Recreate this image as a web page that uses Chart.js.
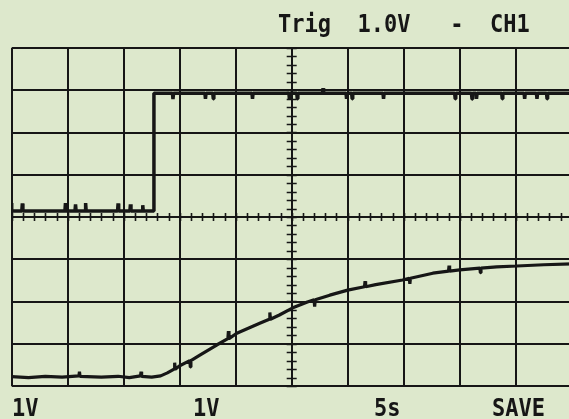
<!DOCTYPE html>
<html>
<head>
<meta charset="utf-8">
<script src="https://cdn.jsdelivr.net/npm/chart.js@4/dist/chart.umd.min.js"></script>
<style>
  html, body { margin: 0; padding: 0; overflow: hidden; background: #dde8cc; }
  canvas { display: block; }
</style>
</head>
<body>
<canvas id="scope" width="575" height="419"></canvas>
<script>
// Screen settings: 10 horizontal divisions at 5 s/div, 8 vertical divisions at 1 V/div
const timeDivs = [0, 5, 10, 15, 20, 25, 30, 35, 40, 45, 50];
const voltDivs = [-4, -3, -2, -1, 0, 1, 2, 3, 4];

// Header and footer readouts
const headerText = "Trig  1.0V   -  CH1";
const footerLabels = ["1V", "1V", "5s", "SAVE"];

// CH1: step input (seconds, volts), with its small glitches
const ch1Time = [
  0, 0, 0.05, 0.9, 0.95, 1.0, 4.75, 4.8, 4.85, 5.65, 5.7, 5.75, 6.55, 6.6, 6.65,
  9.45, 9.5, 9.55, 10.55, 10.6, 10.65, 11.65, 11.7, 11.75, 12.7,
  12.7, 14.35, 14.4, 14.45, 17.25, 17.3, 17.35, 17.95, 18.0, 18.05, 21.45, 21.5, 21.55,
  24.75, 24.8, 24.85, 25.45, 25.5, 25.55, 27.75, 27.8, 27.85, 29.85, 29.9, 29.95,
  30.35, 30.4, 30.45, 33.15, 33.2, 33.25, 39.55, 39.6, 39.65, 41.05, 41.1, 41.15,
  41.45, 41.5, 41.55, 43.75, 43.8, 43.85, 45.75, 45.8, 45.85, 46.85, 46.9, 46.95,
  47.75, 47.8, 47.85, 50
];
const ch1Volts = [
  0.33, 0.14, 0.14, 0.14, 0.32, 0.14, 0.14, 0.33, 0.14, 0.14, 0.30, 0.14, 0.14, 0.33, 0.14,
  0.14, 0.32, 0.14, 0.14, 0.30, 0.14, 0.14, 0.28, 0.14, 0.14,
  2.93, 2.93, 2.79, 2.93, 2.93, 2.80, 2.93, 2.93, 2.80, 2.93, 2.93, 2.80, 2.93,
  2.93, 2.78, 2.93, 2.93, 2.80, 2.93, 2.93, 3.05, 2.93, 2.93, 2.80, 2.93,
  2.93, 2.80, 2.93, 2.93, 2.80, 2.93, 2.93, 2.80, 2.93, 2.93, 2.79, 2.93,
  2.93, 2.80, 2.93, 2.93, 2.80, 2.93, 2.93, 2.80, 2.93, 2.93, 2.80, 2.93,
  2.93, 2.80, 2.93, 2.93
];

// CH2: response (seconds, volts), with its small glitches
const ch2Time = [
  0, 1.5, 3, 4.5, 6, 6.05, 6.1, 8, 9.5, 10.5, 11.5, 11.55, 11.6, 12.5, 13.3, 13.9,
  14.5, 14.55, 14.6, 15.0, 15.9, 15.95, 16.0, 16.8, 18.3, 19.3, 19.35, 19.4, 20.1,
  22.2, 23.0, 23.05, 23.1, 23.9, 25.1, 26.4, 27.0, 27.05, 27.1, 28.4, 30.0,
  31.5, 31.55, 31.6, 32.5, 34.9, 35.5, 35.55, 35.6, 37.6, 39.0, 39.05, 39.1, 40.0,
  41.8, 41.85, 41.9, 43.3, 45.1, 47.5, 50
];
const ch2Volts = [
  -3.78, -3.80, -3.77, -3.79, -3.76, -3.66, -3.77, -3.79, -3.77, -3.80, -3.76, -3.66, -3.77, -3.79, -3.76, -3.69,
  -3.60, -3.45, -3.60, -3.52, -3.40, -3.55, -3.40, -3.27, -3.03, -2.88, -2.70, -2.88, -2.75,
  -2.51, -2.42, -2.26, -2.42, -2.32, -2.15, -2.01, -1.96, -2.12, -1.96, -1.85, -1.73,
  -1.65, -1.52, -1.65, -1.60, -1.49, -1.45, -1.58, -1.45, -1.33, -1.28, -1.15, -1.28, -1.25,
  -1.21, -1.32, -1.21, -1.18, -1.16, -1.13, -1.11
];

const ink = "#161616";
const toPoints = (ts, vs) => ts.map((t, i) => ({ x: t, y: vs[i] }));

// Graticule: division lines plus minor ticks along the centre axes
const graticule = {
  id: "graticule",
  beforeDatasetsDraw(chart) {
    const { ctx, chartArea: a, scales: { x, y } } = chart;
    ctx.save();
    ctx.strokeStyle = ink;
    ctx.lineWidth = 2;
    ctx.beginPath();
    timeDivs.forEach(t => {
      const px = Math.round(x.getPixelForValue(t));
      ctx.moveTo(px, a.top); ctx.lineTo(px, a.bottom);
    });
    voltDivs.forEach(v => {
      const py = Math.round(y.getPixelForValue(v));
      ctx.moveTo(a.left, py); ctx.lineTo(a.right, py);
    });
    ctx.stroke();

    const cx = x.getPixelForValue(25), cy = y.getPixelForValue(0);
    ctx.lineWidth = 1.6;
    ctx.beginPath();
    for (let t = 0; t <= 50; t += 1) {
      const px = Math.round(x.getPixelForValue(t)) + 0.5;
      ctx.moveTo(px, cy - 4); ctx.lineTo(px, cy + 4);
    }
    for (let v = -4; v <= 4.001; v += 0.2) {
      const py = Math.round(y.getPixelForValue(v)) + 0.5;
      ctx.moveTo(cx - 5, py); ctx.lineTo(cx + 5, py);
    }
    ctx.stroke();
    ctx.restore();
  }
};

// Readout text above and below the screen
const readouts = {
  id: "readouts",
  afterDraw(chart) {
    const { ctx } = chart;
    ctx.save();
    ctx.fillStyle = ink;
    ctx.font = 'bold 22px "DejaVu Sans Mono"';
    ctx.textBaseline = "alphabetic";
    const draw = (txt, px, base) => {
      ctx.save();
      ctx.translate(px, base);
      ctx.scale(1, 1.1);
      ctx.fillText(txt, 0, 0);
      ctx.restore();
    };
    draw(headerText, 278, 32);
    const footX = [12, 193, 374, 492];
    footerLabels.forEach((s, i) => draw(s, footX[i], 416));
    ctx.restore();
  }
};

new Chart(document.getElementById("scope"), {
  type: "line",
  data: {
    datasets: [
      { label: "CH1", data: toPoints(ch1Time, ch1Volts), borderWidth: 3.5 },
      { label: "CH2", data: toPoints(ch2Time, ch2Volts), borderWidth: 3.2 }
    ]
  },
  options: {
    responsive: false,
    animation: false,
    devicePixelRatio: 1,
    layout: { padding: { left: 11.7, top: 48, right: 3.3, bottom: 33 } },
    elements: {
      point: { radius: 0 },
      line: { borderColor: ink, tension: 0, borderJoinStyle: "bevel", borderCapStyle: "butt" }
    },
    scales: {
      x: { type: "linear", min: 0, max: 50, display: false },
      y: { type: "linear", min: -4, max: 4, display: false }
    },
    plugins: { legend: { display: false }, tooltip: { enabled: false } }
  },
  plugins: [graticule, readouts]
});
</script>
</body>
</html>
